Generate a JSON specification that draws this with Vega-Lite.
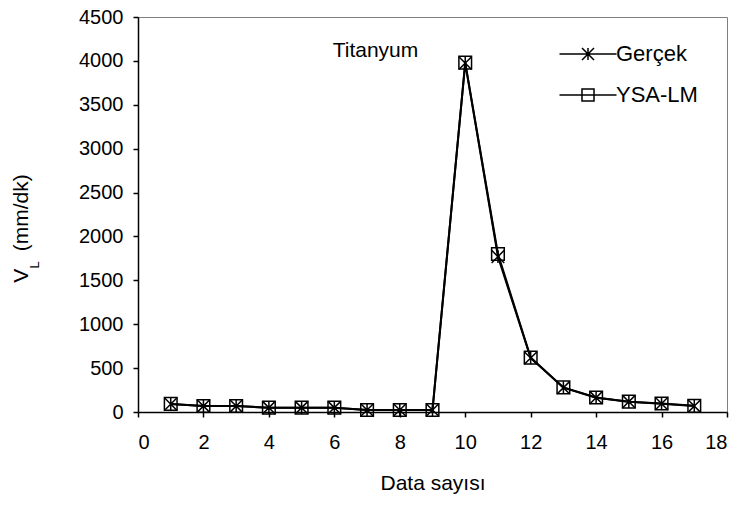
{
  "$schema": "https://vega.github.io/schema/vega-lite/v6.json",
  "width": 589,
  "height": 395,
  "autosize": "none",
  "padding": {"left": 138, "top": 17, "right": 16, "bottom": 95},
  "background": "white",
  "config": {
    "font": "Liberation Sans",
    "view": {"stroke": "#808080", "strokeWidth": 1},
    "axis": {
      "grid": false,
      "domainColor": "black",
      "domainWidth": 1.5,
      "tickColor": "black",
      "tickWidth": 1.5,
      "tickSize": 5,
      "labelColor": "black",
      "labelFontSize": 20,
      "labelFont": "Liberation Sans",
      "titleColor": "black",
      "titleFontSize": 21,
      "titleFont": "Liberation Sans",
      "titleFontWeight": "normal"
    },
    "legend": {
      "labelFontSize": 22,
      "labelFont": "Liberation Sans",
      "labelColor": "black"
    }
  },
  "data": {
    "values": [
      {"n": 1, "v": 90, "s": "Gerçek"},
      {"n": 2, "v": 68, "s": "Gerçek"},
      {"n": 3, "v": 68, "s": "Gerçek"},
      {"n": 4, "v": 49, "s": "Gerçek"},
      {"n": 5, "v": 49, "s": "Gerçek"},
      {"n": 6, "v": 49, "s": "Gerçek"},
      {"n": 7, "v": 23, "s": "Gerçek"},
      {"n": 8, "v": 23, "s": "Gerçek"},
      {"n": 9, "v": 23, "s": "Gerçek"},
      {"n": 10, "v": 3975, "s": "Gerçek"},
      {"n": 11, "v": 1770, "s": "Gerçek"},
      {"n": 12, "v": 615, "s": "Gerçek"},
      {"n": 13, "v": 277, "s": "Gerçek"},
      {"n": 14, "v": 163, "s": "Gerçek"},
      {"n": 15, "v": 117, "s": "Gerçek"},
      {"n": 16, "v": 95, "s": "Gerçek"},
      {"n": 17, "v": 68, "s": "Gerçek"},
      {"n": 1, "v": 92, "s": "YSA-LM"},
      {"n": 2, "v": 68, "s": "YSA-LM"},
      {"n": 3, "v": 68, "s": "YSA-LM"},
      {"n": 4, "v": 49, "s": "YSA-LM"},
      {"n": 5, "v": 49, "s": "YSA-LM"},
      {"n": 6, "v": 49, "s": "YSA-LM"},
      {"n": 7, "v": 23, "s": "YSA-LM"},
      {"n": 8, "v": 23, "s": "YSA-LM"},
      {"n": 9, "v": 23, "s": "YSA-LM"},
      {"n": 10, "v": 3980, "s": "YSA-LM"},
      {"n": 11, "v": 1800, "s": "YSA-LM"},
      {"n": 12, "v": 620, "s": "YSA-LM"},
      {"n": 13, "v": 280, "s": "YSA-LM"},
      {"n": 14, "v": 165, "s": "YSA-LM"},
      {"n": 15, "v": 118, "s": "YSA-LM"},
      {"n": 16, "v": 97, "s": "YSA-LM"},
      {"n": 17, "v": 70, "s": "YSA-LM"}
    ]
  },
  "resolve": {"axis": {"y": "independent"}},
  "layer": [
    {
      "mark": {"type": "line", "color": "black", "strokeWidth": 2},
      "encoding": {
        "x": {
          "field": "n", "type": "quantitative",
          "scale": {"domain": [0, 18]},
          "axis": {"values": [0, 2, 4, 6, 8, 10, 12, 14, 16, 18], "format": "d", "title": "Data sayısı", "labelPadding": 15, "titlePadding": 20}
        },
        "y": {
          "field": "v", "type": "quantitative",
          "scale": {"domain": [0, 4500]},
          "axis": {"values": [0, 500, 1000, 1500, 2000, 2500, 3000, 3500, 4000, 4500], "format": "d", "title": "V\u00a0\u00a0\u00a0(mm/dk)", "labelPadding": 10, "titleAngle": -90, "titleAlign": "center", "titleBaseline": "alphabetic", "titleX": -111, "titleY": 211}
        },
        "detail": {"field": "s"}
      }
    },
    {
      "transform": [{"filter": "datum.s === 'Gerçek'"}],
      "mark": {"type": "point", "filled": false, "stroke": "black", "strokeWidth": 1.5, "size": 160, "opacity": 1, "shape": "M-1,-1L1,1M-1,1L1,-1M0,-1L0,1"},
      "encoding": {
        "x": {"field": "n", "type": "quantitative"},
        "y": {
          "field": "v", "type": "quantitative",
          "axis": {"orient": "right", "labels": false, "ticks": false, "domain": false, "title": "L", "titleFontSize": 13, "titleAngle": -90, "titleAlign": "left", "titleBaseline": "alphabetic", "titleX": -689, "titleY": 251}
        }
      }
    },
    {
      "transform": [{"filter": "datum.s === 'YSA-LM'"}],
      "mark": {"type": "point", "filled": false, "stroke": "black", "strokeWidth": 1.5, "size": 160, "opacity": 1, "shape": "square"},
      "encoding": {
        "x": {"field": "n", "type": "quantitative"},
        "y": {"field": "v", "type": "quantitative", "axis": null}
      }
    },
    {
      "mark": {"type": "point", "filled": false, "stroke": "black", "strokeWidth": 1.5, "size": 144, "opacity": 0},
      "encoding": {
        "x": {"field": "n", "type": "quantitative"},
        "y": {"field": "v", "type": "quantitative", "axis": null},
        "shape": {
          "field": "s", "type": "nominal",
          "scale": {"domain": ["Gerçek", "YSA-LM"], "range": ["M-4.75,0L4.75,0M-1,-1L1,1M-1,1L1,-1M0,-1L0,1", "M-4.75,0L4.75,0M-1,-1L1,-1L1,1L-1,1Z"]},
          "legend": {
            "title": null,
            "orient": "none",
            "legendX": 439,
            "legendY": 26,
            "symbolSize": 144,
            "symbolOpacity": 1,
            "symbolStrokeColor": "black",
            "symbolFillColor": "transparent",
            "symbolStrokeWidth": 1.5,
            "labelOffset": 17,
            "rowPadding": 19
          }
        }
      }
    },
    {
      "data": {"values": [{"label": "Titanyum"}]},
      "mark": {"type": "text", "align": "left", "baseline": "alphabetic", "fontSize": 21, "font": "Liberation Sans", "color": "black"},
      "encoding": {
        "text": {"field": "label"},
        "x": {"datum": 5.95, "type": "quantitative"},
        "y": {"datum": 4045, "type": "quantitative", "axis": null}
      }
    }
  ]
}
